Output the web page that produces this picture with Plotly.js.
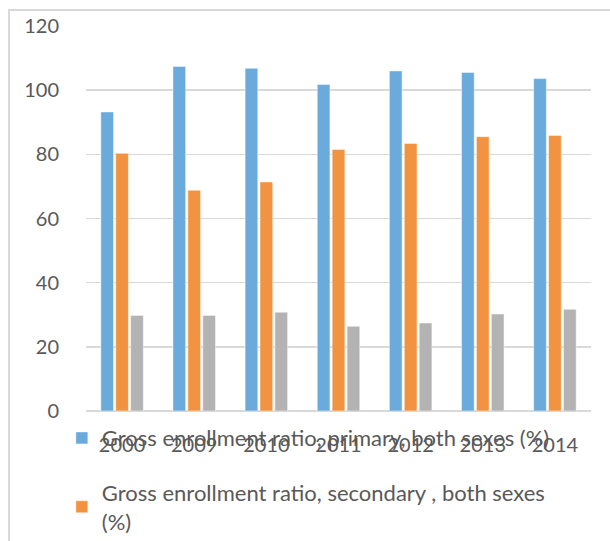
<!DOCTYPE html>
<html>
<head>
<meta charset="utf-8">
<script src="https://cdn.plot.ly/plotly-3.0.1.min.js"></script>
<style>
  html, body { margin: 0; padding: 0; background: #ffffff; overflow: hidden; }
  #frame {
    position: absolute; left: 8px; top: 9px;
    width: 660px; height: 640px;
    border-left: 2px solid #d9d9d9; border-top: 2px solid #d9d9d9;
  }
  #chart { width: 640px; height: 620px; }
</style>
</head>
<body>
<div id="frame"><div id="chart"></div></div>
<script>
// School years shown on the category axis
const years = ['2000', '2009', '2010', '2011', '2012', '2013', '2014'];

// Gross enrollment ratios, both sexes (%)
const primary   = [93.2, 107.4, 106.8, 101.8, 106.0, 105.5, 103.6];
const secondary = [80.3, 68.8, 71.4, 81.5, 83.4, 85.5, 85.9];
const tertiary  = [29.8, 29.8, 30.8, 26.4, 27.4, 30.2, 31.7];

const seriesNames = [
  'Gross enrollment ratio, primary, both sexes (%)',
  'Gross enrollment ratio, secondary , both sexes<br>(%)',
  'Gross enrollment ratio, tertiary, both sexes (%)'
];

const yTicks = [0, 20, 40, 60, 80, 100, 120];

const colors = ['#6BABDC', '#F29341', '#B3B3B3'];
const seriesValues = [primary, secondary, tertiary];

const traces = seriesValues.map((vals, i) => ({
  type: 'bar',
  x: years,
  y: vals,
  name: seriesNames[i],
  legendgroup: 'g' + i,
  marker: { color: colors[i], line: { color: 'rgba(255,255,255,0.45)', width: 1 } },
  hoverinfo: 'x+y'
}));

const fontFamily = 'Lato, "Open Sans", sans-serif';
const textColor = '#595959';

const layout = {
  width: 640,
  height: 620,
  margin: { l: 76, r: 59, t: 15, b: 220, pad: 0, autoexpand: false },
  paper_bgcolor: '#ffffff',
  plot_bgcolor: '#ffffff',
  font: { family: fontFamily, color: textColor, size: 20 },
  barmode: 'group',
  bargap: 0.38,
  bargroupgap: 0.15,
  xaxis: {
    type: 'category',
    showgrid: false,
    showline: false,
    zeroline: false,
    tickangle: 0,
    ticks: 'outside',
    ticklen: 16,
    tickcolor: 'rgba(0,0,0,0)',
    tickfont: { family: fontFamily, size: 20, color: textColor }
  },
  yaxis: {
    range: [0, 120],
    tickvals: yTicks,
    ticktext: yTicks.map(String),
    showgrid: true,
    gridcolor: '#d9d9d9',
    gridwidth: 1.6,
    zeroline: true,
    zerolinecolor: '#d9d9d9',
    zerolinewidth: 1.6,
    showline: false,
    ticks: 'outside',
    ticklen: 22,
    tickcolor: 'rgba(0,0,0,0)',
    tickfont: { family: fontFamily, size: 20, color: textColor }
  },
  showlegend: true,
  legend: {
    orientation: 'v',
    xref: 'container',
    yref: 'container',
    x: 0.081,
    xanchor: 'left',
    y: 0.345,
    yanchor: 'top',
    bgcolor: 'rgba(0,0,0,0)',
    font: { family: fontFamily, size: 22, color: textColor },
    tracegroupgap: 23,
    traceorder: 'grouped'
  }
};

Plotly.newPlot('chart', traces, layout, { displayModeBar: false, staticPlot: true });
</script>
</body>
</html>
